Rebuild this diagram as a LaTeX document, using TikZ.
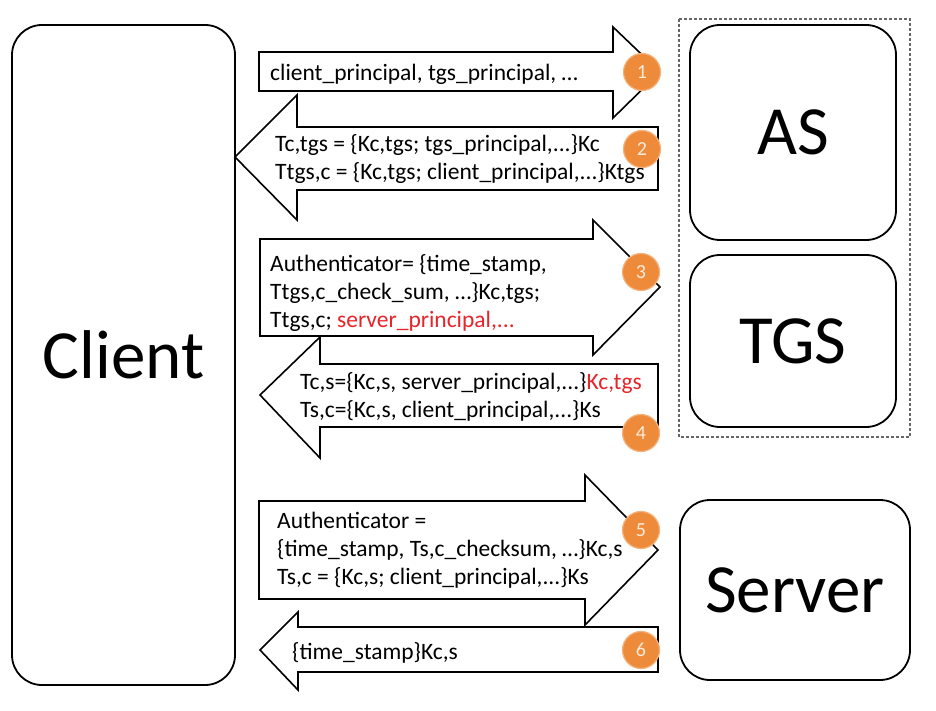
\documentclass[tikz,border=0pt]{standalone}
\usepackage{fontspec}
\setmainfont{Carlito}
\definecolor{badge}{HTML}{EE8B3B}
\definecolor{badgeedge}{HTML}{F4B27C}
\definecolor{badgetext}{HTML}{FCEBDA}
\definecolor{redtxt}{HTML}{E8242A}
\definecolor{dashgray}{HTML}{666666}
\begin{document}
\begin{tikzpicture}[x=1pt,y=-1pt,
  entity/.style={draw, line width=1.8pt, rounded corners=30pt, font=\fontsize{69}{70}\selectfont},
  blockarrow/.style={draw, line width=1.6pt, fill=white, line join=miter},
  msg/.style={anchor=west, align=left, font=\fontsize{23.5}{28}\selectfont, inner sep=0pt},
  badgenode/.style={circle, fill=badge, draw=badgeedge, line width=1.2pt, minimum size=37pt, inner sep=0pt, text=badgetext, font=\fontsize{20}{20}\selectfont}
]
\useasboundingbox (0,0) rectangle (936,711);
\fill[white] (0,0) rectangle (936,711);

% entities
\node[entity, minimum width=223pt, minimum height=660pt] (client) at (123.5,355) {Client};
\draw[dashgray, line width=1.1pt, dash pattern=on 3pt off 2pt] (679,19) rectangle (910,437);
\node[entity, minimum width=206pt, minimum height=215pt] (as) at (793,132.5) {AS};
\node[entity, minimum width=206pt, minimum height=172pt] (tgs) at (793,341) {TGS};
\node[entity, minimum width=230pt, minimum height=180pt] (server) at (795,590) {Server};

% arrow 1 (right)
\draw[blockarrow] (259,52) -- (613,52) -- (613,27) -- (660,72) -- (613,118) -- (613,91) -- (259,91) -- cycle;
\node[msg] (m1) at (270,74) {client\_principal, tgs\_principal, …};
% arrow 2 (left)
\draw[blockarrow] (658,127) -- (297,127) -- (297,95) -- (235,157) -- (297,220) -- (297,190) -- (658,190) -- cycle;
\node[msg] (m2) at (275,159) {Tc,tgs = \{Kc,tgs; tgs\_principal,...\}Kc\\Ttgs,c = \{Kc,tgs; client\_principal,...\}Ktgs};
% arrow 3 (right)
\draw[blockarrow] (260,239) -- (593,239) -- (593,220) -- (660,287) -- (593,355) -- (593,336) -- (260,336) -- cycle;
\node[msg] (m3) at (270,293) {Authenticator= \{time\_stamp,\\Ttgs,c\_check\_sum, …\}Kc,tgs;\\Ttgs,c; \textcolor{redtxt}{server\_principal,...}};
% arrow 4 (left)
\draw[blockarrow] (658,364) -- (320,364) -- (320,337) -- (260,395) -- (320,458) -- (320,427) -- (658,427) -- cycle;
\node[msg] (m4) at (300,397) {Tc,s=\{Kc,s, server\_principal,...\}\textcolor{redtxt}{Kc,tgs}\\Ts,c=\{Kc,s, client\_principal,...\}Ks};
% arrow 5 (right)
\draw[blockarrow] (259,501) -- (585,501) -- (585,475) -- (658,550) -- (585,625) -- (585,599) -- (259,599) -- cycle;
\node[msg] (m5) at (277,550) {Authenticator =\\\{time\_stamp, Ts,c\_checksum, …\}Kc,s\\Ts,c = \{Kc,s; client\_principal,...\}Ks};
% arrow 6 (left)
\draw[blockarrow] (658,627) -- (298,627) -- (298,612) -- (260,650) -- (298,690) -- (298,672) -- (658,672) -- cycle;
\node[msg] (m6) at (292,653) {\{time\_stamp\}Kc,s};

% badges
\node[badgenode] (b1) at (642,72) {1};
\node[badgenode] (b2) at (642,149) {2};
\node[badgenode] (b3) at (641,272) {3};
\node[badgenode] (b4) at (641,433) {4};
\node[badgenode] (b5) at (641,530) {5};
\node[badgenode] (b6) at (641,650) {6};
\end{tikzpicture}
\end{document}
